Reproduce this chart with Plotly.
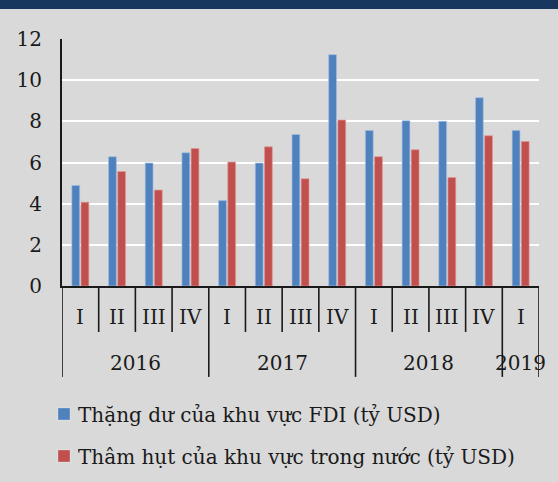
import plotly.graph_objects as go

quarters = ["I", "II", "III", "IV", "I", "II", "III", "IV", "I", "II", "III", "IV", "I"]
years = ["2016", "2017", "2018", "2019"]
year_quarter_counts = [4, 4, 4, 1]
fdi_surplus = [4.88, 6.28, 5.97, 6.47, 4.15, 5.97, 7.36, 11.24, 7.56, 8.03, 8.0, 9.15, 7.56]
domestic_deficit = [4.07, 5.56, 4.66, 6.68, 6.02, 6.76, 5.21, 8.06, 6.28, 6.62, 5.27, 7.30, 7.02]
series_names = ["Thặng dư của khu vực FDI (tỷ USD)", "Thâm hụt của khu vực trong nước (tỷ USD)"]
series_colors = ["#4F81BD", "#C0504D"]
y_ticks = [0, 2, 4, 6, 8, 10, 12]

FONT = "DejaVu Serif"
FS = 20
TXT = "#1a1a1a"
x_idx = list(range(len(quarters)))

fig = go.Figure()
fig.add_trace(go.Bar(x=x_idx, y=fdi_surplus, name=series_names[0],
                     marker=dict(color=series_colors[0], line=dict(color="rgba(160,190,230,0.8)", width=0.8))))
fig.add_trace(go.Bar(x=x_idx, y=domestic_deficit, name=series_names[1],
                     marker=dict(color=series_colors[1], line=dict(color="rgba(230,150,150,0.8)", width=0.8))))

shapes = []
# top navy band
shapes.append(dict(type="rect", xref="paper", yref="paper", x0=-0.2, x1=1.1, y0=1.121, y1=1.2,
                   fillcolor="#17375E", line=dict(width=0), layer="above"))
n = len(quarters)
year_bounds = [-0.5]
acc = -0.5
for c in year_quarter_counts:
    acc += c
    year_bounds.append(acc)
for i in range(n + 1):
    b = i - 0.5
    y0 = -0.368 if (b in year_bounds or i == n) else -0.186
    shapes.append(dict(type="line", xref="x", yref="paper", x0=b, x1=b, y0=y0, y1=0,
                       line=dict(color=TXT, width=1.6)))

annotations = []
for i, q in enumerate(quarters):
    annotations.append(dict(x=i, y=-0.124, xref="x", yref="paper", text=q, showarrow=False,
                            font=dict(family=FONT, size=FS, color=TXT), xanchor="center", yanchor="middle"))
for k, yr in enumerate(years):
    cx = (year_bounds[k] + year_bounds[k + 1]) / 2
    annotations.append(dict(x=cx, y=-0.31, xref="x", yref="paper", text=yr, showarrow=False,
                            font=dict(family=FONT, size=FS, color=TXT), xanchor="center", yanchor="middle"))

# manual legend (paper coordinates)
legend_rows = [(-0.4939, -0.5425, -0.5223), (-0.664, -0.7126, -0.6923)]
for (sy0, sy1, ty), name, col in zip(legend_rows, series_names, series_colors):
    shapes.append(dict(type="rect", xref="paper", yref="paper", x0=-0.0084, x1=0.0168, y0=sy1, y1=sy0,
                       fillcolor=col, line=dict(color="rgba(255,255,255,0.35)", width=0.8)))
    annotations.append(dict(x=0.0294, y=ty, xref="paper", yref="paper", text=name, showarrow=False,
                            font=dict(family=FONT, size=FS, color=TXT), xanchor="left", yanchor="middle"))

fig.update_layout(
    width=558, height=482,
    margin=dict(l=62, r=19, t=39, b=196),
    paper_bgcolor="#D9D9D9", plot_bgcolor="#D9D9D9",
    barmode="group", bargap=0.5, bargroupgap=0.15,
    font=dict(family=FONT, size=FS, color=TXT),
    shapes=shapes, annotations=annotations,
    showlegend=False,
)
fig.update_xaxes(range=[-0.5, n - 0.5], showticklabels=False, showgrid=False, zeroline=False,
                 showline=True, linecolor=TXT, linewidth=1.6, ticks="")
fig.update_yaxes(range=[0, 12], tickvals=y_ticks, showgrid=True, gridcolor="#FFFFFF", gridwidth=2,
                 zeroline=False, showline=True, linecolor=TXT, linewidth=2, ticks="",
                 tickfont=dict(family=FONT, size=20, color=TXT), ticklabelstandoff=14)

fig.write_html("out.html", config={"displayModeBar": False},
               post_script="document.body.style.margin='0';")
